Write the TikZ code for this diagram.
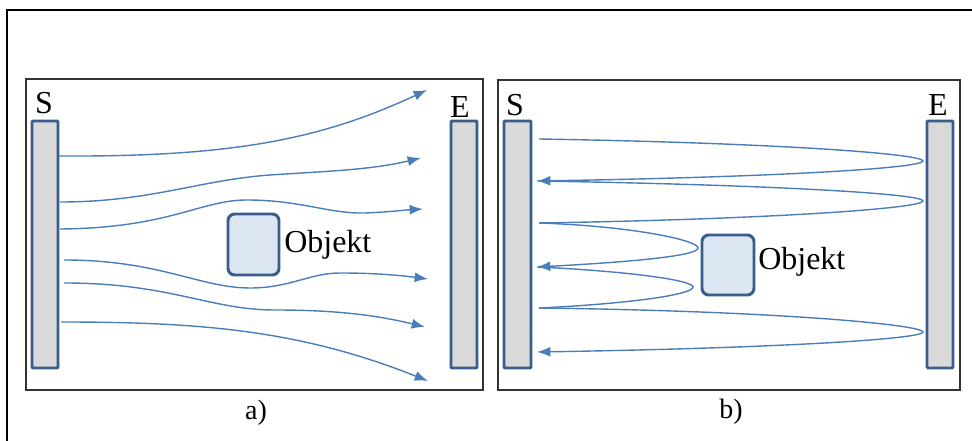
\documentclass[tikz,border=0pt]{standalone}
\usepackage{fontspec}
\setmainfont{Liberation Serif}
\newfontfamily\labelface{Liberation Serif}
\usetikzlibrary{arrows.meta}
\definecolor{ray}{HTML}{4A7EBB}
\definecolor{barline}{HTML}{385D8A}
\definecolor{barfill}{HTML}{D9D9D9}
\definecolor{objfill}{HTML}{DCE6F2}
\tikzset{
  frame/.style={draw=black!80, line width=1.1pt},
  plate/.style={draw=barline, fill=barfill, line width=2.2pt, rounded corners=0.8pt},
  obj/.style={draw=barline, fill=objfill, line width=2.2pt, rounded corners=5pt},
  ray/.style={draw=ray, line width=1.05pt},
  rayarrow/.style={ray, -{Latex[length=10pt,width=7.5pt]}},
  lbl/.style={font=\labelface\fontsize{24}{28}\selectfont, inner sep=0pt},
  sublbl/.style={font=\labelface\fontsize{21}{25}\selectfont, inner sep=0pt},
}
\begin{document}
\begin{tikzpicture}[x=0.75pt,y=-0.75pt]
\useasboundingbox (0,0) rectangle (972,441);
% outer frame, running past the page edge on the right and bottom
\begin{scope}
\clip (0,0) rectangle (972,441);
\draw[draw=black, line width=1.1pt] (7,10) rectangle (985,455);
\end{scope}

% ---------- panel a ----------
\draw[frame] (26,79) rectangle (483,390);
\draw[plate] (32,121) rectangle (58,368);
\draw[plate] (451,121) rectangle (477,368);
\node[lbl] (Sa) at (44,103) {S};
\node[lbl] (Ea) at (460,107) {E};
\draw[obj] (228,214) rectangle (279,275);
\node[lbl, anchor=west] (oa) at (284,245) {Objekt};
\node[sublbl] (ca) at (256,413) {a)};

\coordinate (a1s) at (59,156);  \coordinate (a1e) at (427,90);
\coordinate (a2s) at (60,202);  \coordinate (a2e) at (421,158);
\coordinate (a3s) at (60,229);  \coordinate (a3e) at (423,209);
\coordinate (a4s) at (64,260);  \coordinate (a4e) at (428,279);
\coordinate (a5s) at (64,283);  \coordinate (a5e) at (425,327);
\coordinate (a6s) at (61,322);  \coordinate (a6e) at (428,381);

\draw[rayarrow] (a1s) .. controls (230,157) and (320,140) .. (a1e);
\draw[rayarrow] (a2s) .. controls (150,202) and (200,180) .. (270,175)
                      .. controls (330,171) and (370,170) .. (a2e);
\draw[rayarrow] (a3s) .. controls (170,228) and (200,200) .. (247,200)
                      .. controls (300,200) and (330,214) .. (365,213)
                      .. controls (390,212) and (405,210) .. (a3e);
\draw[rayarrow] (a4s) .. controls (160,260) and (200,288) .. (250,288)
                      .. controls (290,288) and (310,273) .. (340,273)
                      .. controls (380,273) and (405,276) .. (a4e);
\draw[rayarrow] (a5s) .. controls (170,283) and (210,310) .. (275,310)
                      .. controls (340,310) and (380,316) .. (a5e);
\draw[rayarrow] (a6s) .. controls (200,322) and (300,330) .. (a6e);

% ---------- panel b ----------
\draw[frame] (498,80) rectangle (960,390);
\draw[plate] (504,121) rectangle (531,368);
\draw[plate] (927,121) rectangle (953,368);
\node[lbl] (Sb) at (515,105) {S};
\node[lbl] (Eb) at (938,105) {E};
\draw[obj] (702,235) rectangle (754,295);
\node[lbl, anchor=west] (ob) at (758,262) {Objekt};
\node[sublbl] (cb) at (731,412) {b)};

\coordinate (b0) at (539,139);
\coordinate (b1) at (537,181);
\coordinate (b2) at (539,223);
\coordinate (b3) at (537,267);
\coordinate (b4) at (539,308);
\coordinate (b5) at (537,352);
\coordinate (t1) at (923,161);
\coordinate (t2) at (923,201);
\coordinate (t3) at (698,248);
\coordinate (t4) at (693,287);
\coordinate (t5) at (923,332);

\draw[rayarrow] (b0) .. controls (780,143) and (923,154) .. (t1)
                     .. controls (923,168) and (780,177) .. (b1);
\draw[ray]      (b1) .. controls (780,185) and (923,194) .. (t2)
                     .. controls (923,208) and (780,219) .. (b2);
\draw[rayarrow] (b2) .. controls (630,226) and (698,240) .. (t3)
                     .. controls (698,256) and (630,262) .. (b3);
\draw[ray]      (b3) .. controls (625,271) and (693,280) .. (t4)
                     .. controls (693,295) and (625,304) .. (b4);
\draw[rayarrow] (b4) .. controls (780,311) and (923,325) .. (t5)
                     .. controls (923,339) and (780,348) .. (b5);
\end{tikzpicture}
\end{document}
